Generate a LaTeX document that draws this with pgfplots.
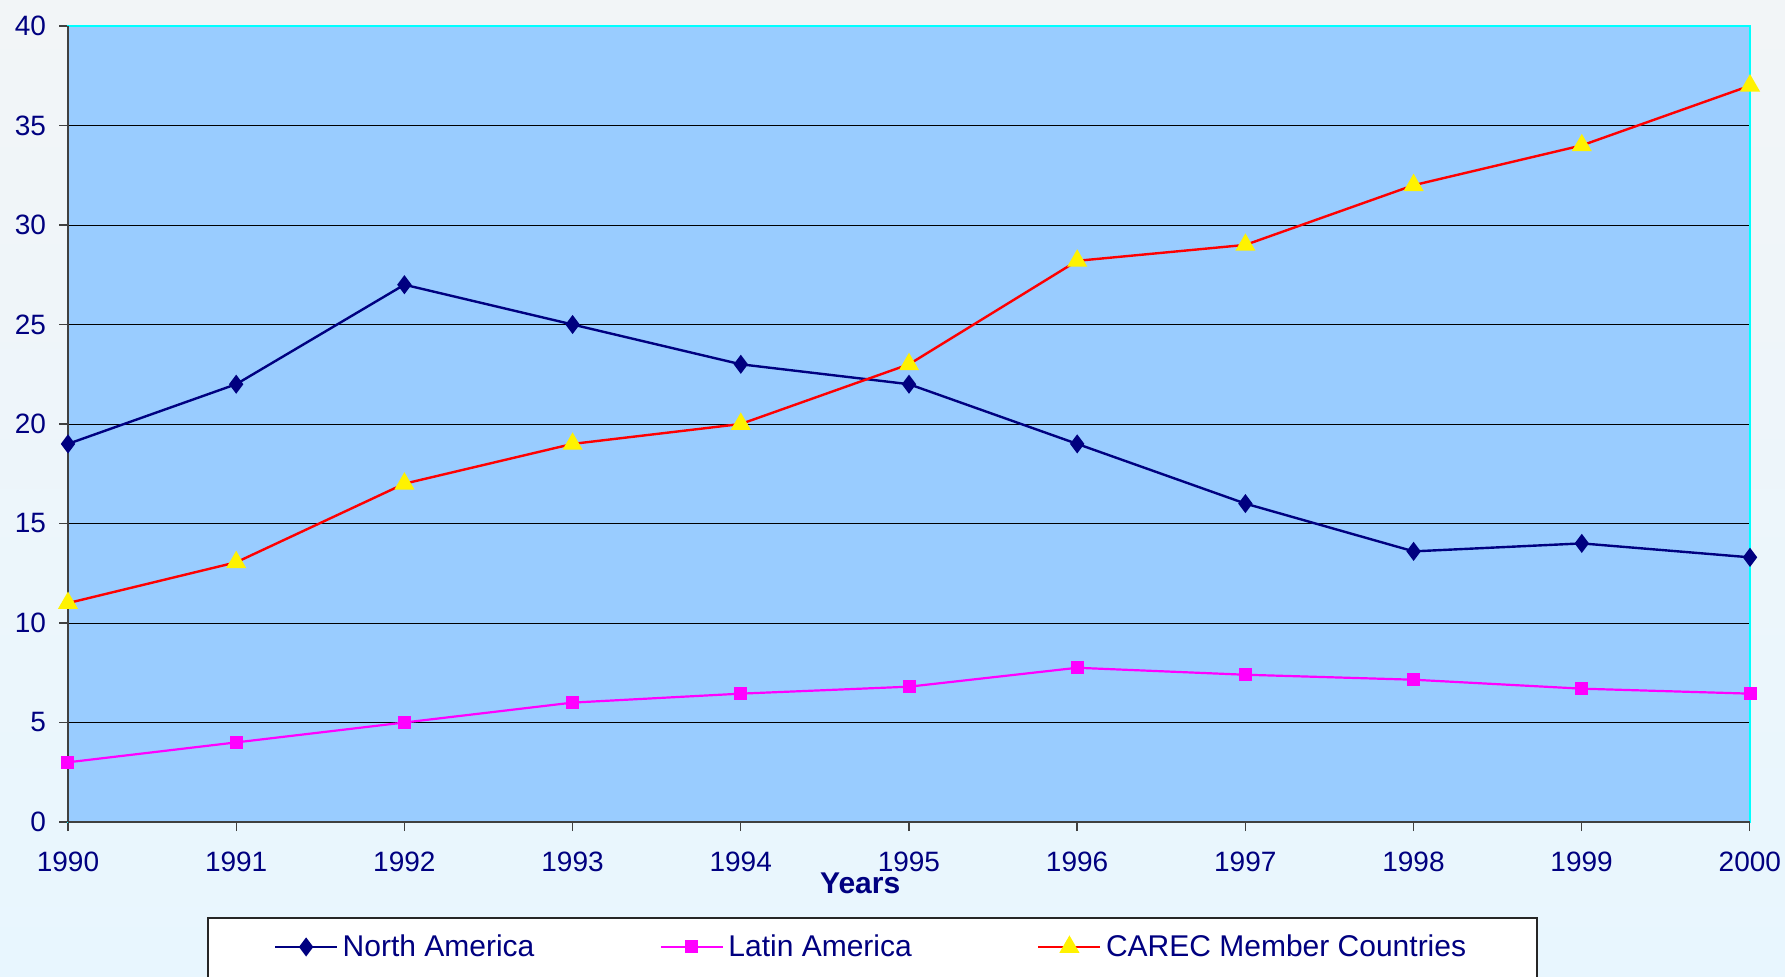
\documentclass[border=0pt]{standalone}
\usepackage{pgfplots}
\pgfplotsset{compat=1.18}
\usepackage{fontspec}
\setmainfont{Liberation Sans}
\definecolor{navy}{HTML}{000080}
\definecolor{mag}{HTML}{FF00FF}
\definecolor{plotbg}{HTML}{99CCFF}
\definecolor{bgtop}{HTML}{F2F5F7}
\definecolor{bgbot}{HTML}{E8F6FE}
\definecolor{tickgray}{HTML}{404040}
\definecolor{frame}{HTML}{00FFFF}
\begin{document}
\begin{tikzpicture}
\shade[top color=bgtop,bottom color=bgbot] (0,0) rectangle (892.5pt,488pt);
\draw[black!85, fill=white, line width=0.6pt] (104pt,29pt) rectangle (768.5pt,-20pt);
\begin{axis}[
  at={(34pt,77pt)}, anchor=south west, scale only axis,
  width=841pt, height=398pt,
  xmin=1990, xmax=2000, ymin=0, ymax=40,
  xtick={1990,...,2000}, ytick={0,5,...,40},
  xtick pos=lower, ytick pos=left,
  ymajorgrids, grid style={black, line width=0.5pt},
  axis line style={frame, line width=1.2pt},
  axis background/.style={fill=plotbg},
  tick align=outside, major tick length=4.5pt,
  tick style={tickgray, line width=0.6pt},
  ticklabel style={font=\fontsize{14}{16}\selectfont, text=navy},
  xticklabel style={yshift=-7pt},
  yticklabel style={xshift=-3pt},
  /pgf/number format/assume math mode=true,
  /pgf/number format/1000 sep={},
  clip=false,
  xlabel={Years},
  xlabel style={at={(axis description cs:0.471,-0.0766)}, anchor=center, font=\bfseries\fontsize{15}{18}\selectfont, text=navy},
  legend columns=3,
  legend style={at={(0.1222,-0.157)}, anchor=west, draw=none, fill=none,
    font=\fontsize{15}{18}\selectfont, text=navy, inner sep=0pt,
    nodes={inner xsep=2.2pt, inner ysep=1pt},
    /tikz/every even column/.append style={column sep=60.5pt}},
  legend cell align=left,
  legend image code/.code={\draw[mark repeat=2,mark phase=2,#1] plot coordinates {(0pt,0pt) (15.5pt,0pt) (31pt,0pt)};},
]
\draw[tickgray, line width=0.6pt] (axis cs:1990,0) -- (axis cs:1990,40);
\draw[tickgray, line width=0.6pt] (axis cs:1990,0) -- (axis cs:2000,0);
\addplot[navy, line width=1.2pt, mark=diamond*, mark size=3.8pt, mark options={fill=navy}]
  coordinates {(1990,19) (1991,22) (1992,27) (1993,25) (1994,23) (1995,22) (1996,19) (1997,16) (1998,13.6) (1999,14) (2000,13.3)};
\addlegendentry{North America}
\addplot[mag, line width=1.1pt, mark=square*, mark size=2.7pt, mark options={fill=mag}]
  coordinates {(1990,3) (1991,4) (1992,5) (1993,6) (1994,6.45) (1995,6.8) (1996,7.75) (1997,7.4) (1998,7.15) (1999,6.7) (2000,6.45)};
\addlegendentry{Latin America}
\addplot[red, line width=1.2pt, mark=triangle*, mark size=4.6pt, mark options={fill=yellow, draw=yellow}]
  coordinates {(1990,11) (1991,13.05) (1992,17) (1993,19) (1994,20) (1995,23) (1996,28.2) (1997,29) (1998,32) (1999,34) (2000,37)};
\addlegendentry{CAREC Member Countries}
\end{axis}
\pgfresetboundingbox
\useasboundingbox (0,0) rectangle (892.5pt,488pt);
\end{tikzpicture}
\end{document}
